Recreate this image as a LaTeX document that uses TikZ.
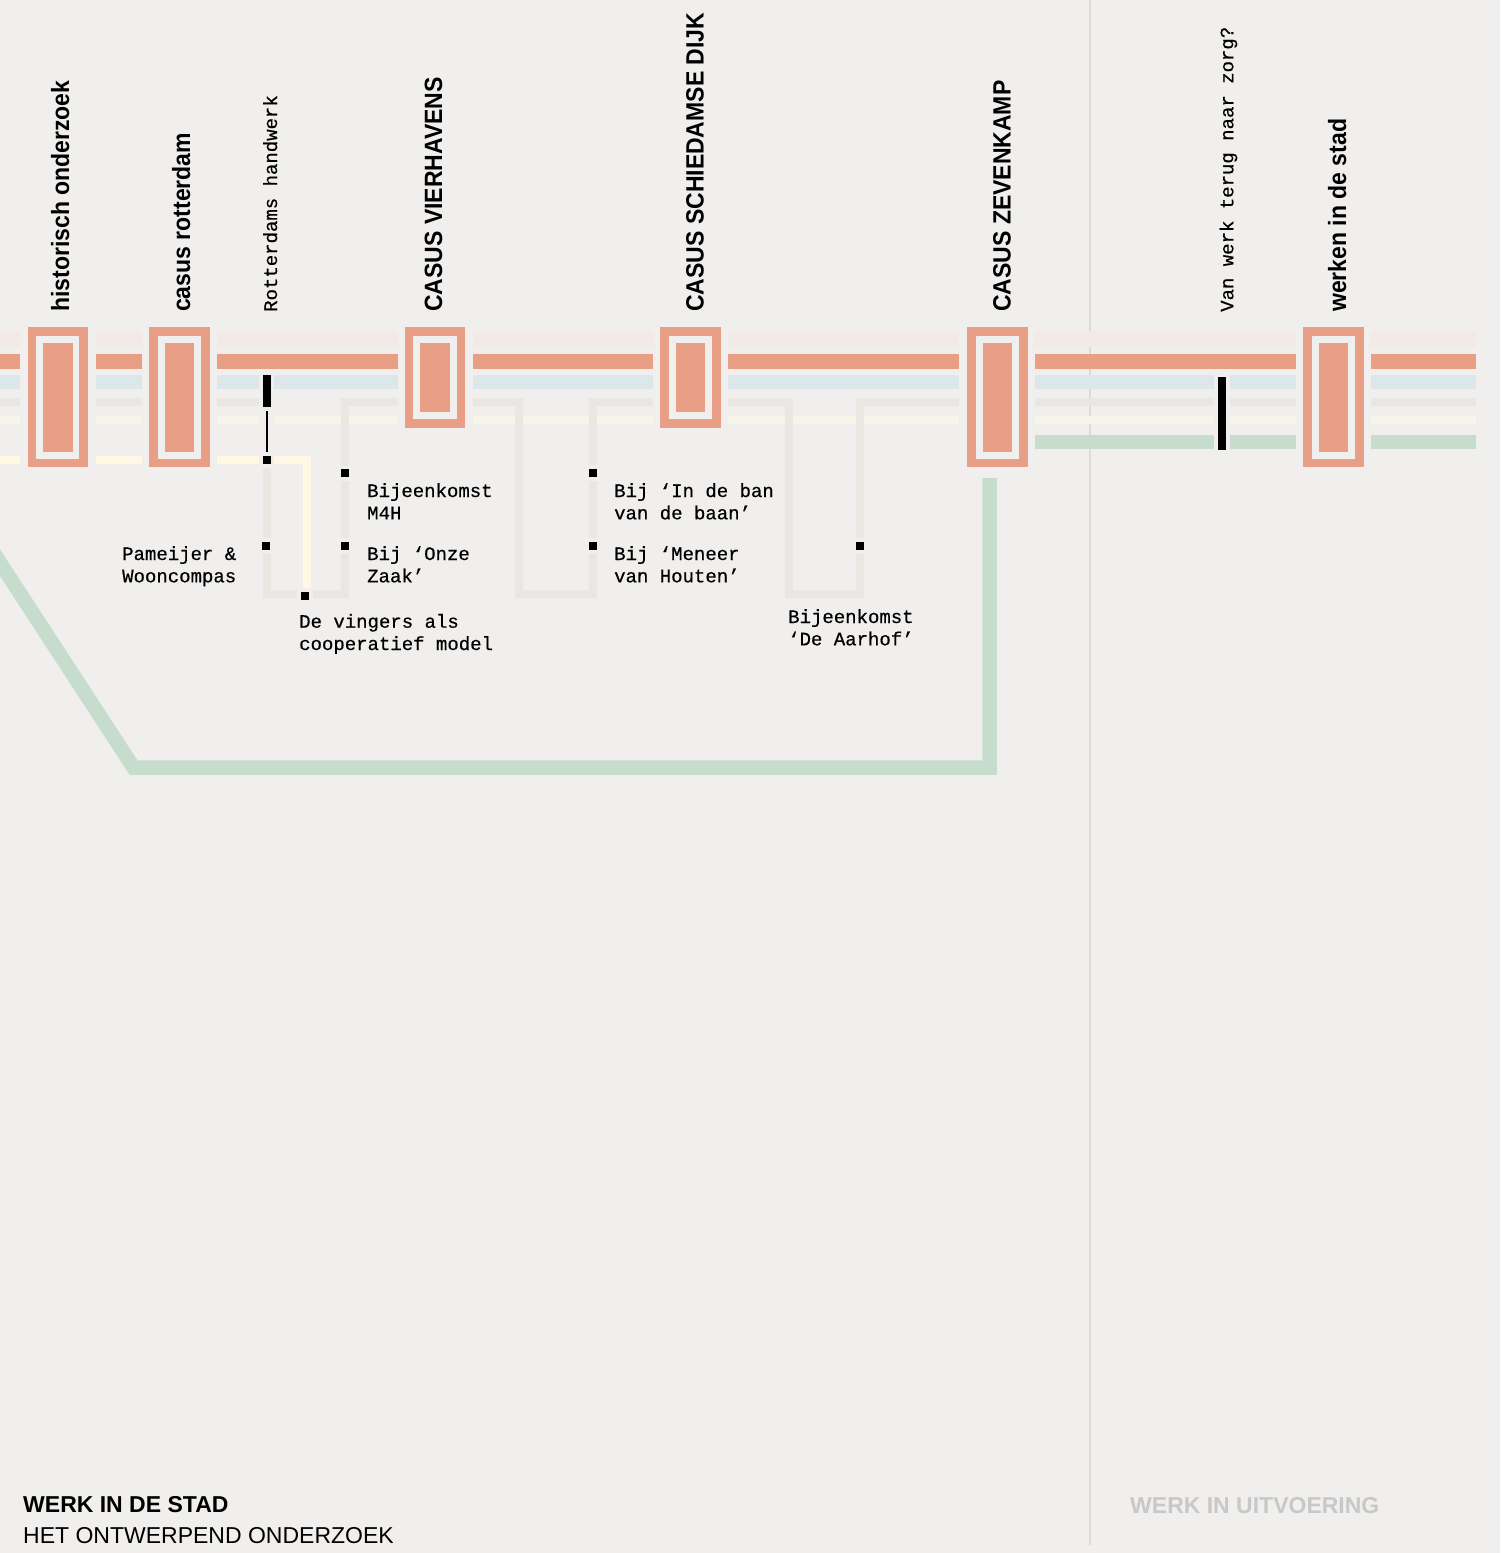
\documentclass[tikz,border=0pt]{standalone}
\usepackage{fontspec}
\setmainfont{Liberation Sans}
\newfontfamily\headfont{Liberation Sans}[FakeStretch=0.92]
\newfontfamily\monofont{Liberation Mono}[FakeBold=0.5]
\definecolor{bgc}{HTML}{F0EFED}
\definecolor{salmon}{HTML}{E99F85}
\definecolor{pinkl}{HTML}{F3EAE7}
\definecolor{bluel}{HTML}{DCE7EB}
\definecolor{greyl}{HTML}{E8E7E1}
\definecolor{creaml}{HTML}{F6F5E9}
\definecolor{yellowl}{HTML}{FEF8E5}
\definecolor{greenl}{HTML}{C6DCCD}
\definecolor{rulec}{HTML}{DCDBD9}
\definecolor{fadedtxt}{HTML}{C8C8C8}
\newcommand\stationbox[2]{%
  \fill[salmon] (#1-30.2,327) rectangle (#1+30.2,#2);
  \fill[bgc] (#1-21.7,335.5) rectangle (#1+21.7,#2-8.5);
  \fill[salmon] (#1-14.8,343) rectangle (#1+14.8,#2-15.5);
}
\newcommand\blackdot[2]{%
  \fill[bgc] (#1-7.7,#2-7.7) rectangle (#1+7.7,#2+7.7);
  \fill[black] (#1-4,#2-4) rectangle (#1+4,#2+4);
}
\begin{document}
\begin{tikzpicture}[x=1pt,y=-1pt,
  band/.style={line width=#1, line cap=butt, line join=miter},
  heading/.style={font=\headfont\bfseries\fontsize{25}{30}\selectfont, inner sep=0, anchor=base west, rotate=90},
  monorot/.style={font=\monofont\fontsize{19}{22.3}\selectfont, inner sep=0, anchor=base west, rotate=90},
  mono/.style={font=\monofont\fontsize{19}{22.3}\selectfont, inner sep=0, anchor=base west},
  foot/.style={font=\fontsize{23}{27}\selectfont, inner sep=0, anchor=base west}]
\fill[bgc] (0,0) rectangle (1500,1553);
\useasboundingbox (0,0) rectangle (1500,1553);
\clip (0,0) rectangle (1500,1553);
% vertical rule
\draw[rulec, line width=2] (1090,0) -- (1090,1545);
% bands
\foreach \a/\b in {0/20, 96/142, 217/397.5, 473/653, 728/959, 1035/1296, 1371/1476} {
  \draw[pinkl, band=16] (\a,339) -- (\b,339);
  \draw[salmon, band=15] (\a,361) -- (\b,361);
  \draw[bluel, band=14] (\a,382) -- (\b,382);
  \draw[creaml, band=8] (\a,420) -- (\b,420);
}
\foreach \a/\b in {0/20, 96/142, 217/258.5, 1035/1296, 1371/1476}
  \draw[greyl, band=8] (\a,402) -- (\b,402);
\foreach \a/\b in {1035/1296, 1371/1476}
  \draw[greenl, band=14] (\a,442) -- (\b,442);
\foreach \a/\b in {0/20, 96/142}
  \draw[yellowl, band=8] (\a,460) -- (\b,460);
% grey detours
\draw[greyl, band=8] (267,467) -- (267,594) -- (345,594) -- (345,402) -- (397.5,402);
\draw[greyl, band=8] (473,402) -- (518.5,402) -- (518.5,594) -- (593,594) -- (593,402) -- (653,402);
\draw[greyl, band=8] (728,402) -- (789,402) -- (789,594) -- (860,594) -- (860,402) -- (959,402);
% yellow branch
\draw[yellowl, band=8] (217,460) -- (306.5,460) -- (306.5,588);
% green route
\draw[greenl, band=14.5] (989.5,478) -- (989.5,767.5) -- (133.5,767.5) -- (-20,532);
% stations
\stationbox{57.7}{467}
\stationbox{179.3}{467}
\stationbox{434.8}{427.7}
\stationbox{690.3}{427.7}
\stationbox{997.5}{467}
\stationbox{1333.5}{467}
% black markers
\fill[bgc] (259,371.3) rectangle (274.4,410);
\fill[black] (262.7,375) rectangle (270.7,406.5);
\fill[bgc] (259,408) rectangle (274.4,455);
\draw[black, line width=2] (266.5,411) -- (266.5,451.7);
\fill[bgc] (1214,373) rectangle (1230,453.7);
\fill[black] (1217.8,376.7) rectangle (1226,450);
\blackdot{266.5}{460}
\blackdot{345}{473.3}
\blackdot{266}{546}
\blackdot{345}{546}
\blackdot{305}{596}
\blackdot{593}{473}
\blackdot{593}{546}
\blackdot{860}{546}
% headings
\node[heading] (h1) at (69,312) {historisch onderzoek};
\node[heading] (h2) at (190,312) {casus rotterdam};
\node[monorot] (m1) at (277,312) {Rotterdams handwerk};
\node[heading] (h3) at (442,312) {CASUS VIERHAVENS};
\node[heading] (h4) at (703.5,312) {CASUS SCHIEDAMSE DIJK};
\node[heading] (h5) at (1010.7,312) {CASUS ZEVENKAMP};
\node[monorot] (m2) at (1233.3,312) {Van werk terug naar zorg?};
\node[heading] (h6) at (1346,312) {werken in de stad};
% stop labels
\node[mono] (t1) at (122,560) {\begin{tabular}[t]{@{}l@{}}Pameijer \&\\Wooncompas\end{tabular}};
\node[mono] (t2) at (367,497) {\begin{tabular}[t]{@{}l@{}}Bijeenkomst\\M4H\end{tabular}};
\node[mono] (t3) at (367,560) {\begin{tabular}[t]{@{}l@{}}Bij ‘Onze\\Zaak’\end{tabular}};
\node[mono] (t4) at (299,627.7) {\begin{tabular}[t]{@{}l@{}}De vingers als\\cooperatief model\end{tabular}};
\node[mono] (t5) at (614,497) {\begin{tabular}[t]{@{}l@{}}Bij ‘In de ban\\van de baan’\end{tabular}};
\node[mono] (t6) at (614,560) {\begin{tabular}[t]{@{}l@{}}Bij ‘Meneer\\van Houten’\end{tabular}};
\node[mono] (t7) at (788,623) {\begin{tabular}[t]{@{}l@{}}Bijeenkomst\\‘De Aarhof’\end{tabular}};
% footer
\node[foot, font=\bfseries\fontsize{23}{27}\selectfont] (f1) at (23,1512) {WERK IN DE STAD};
\node[foot] (f2) at (23,1543.3) {HET ONTWERPEND ONDERZOEK};
\node[foot, font=\bfseries\fontsize{23}{27}\selectfont, text=fadedtxt] (f3) at (1130,1513.3) {WERK IN UITVOERING};
\end{tikzpicture}
\end{document}
